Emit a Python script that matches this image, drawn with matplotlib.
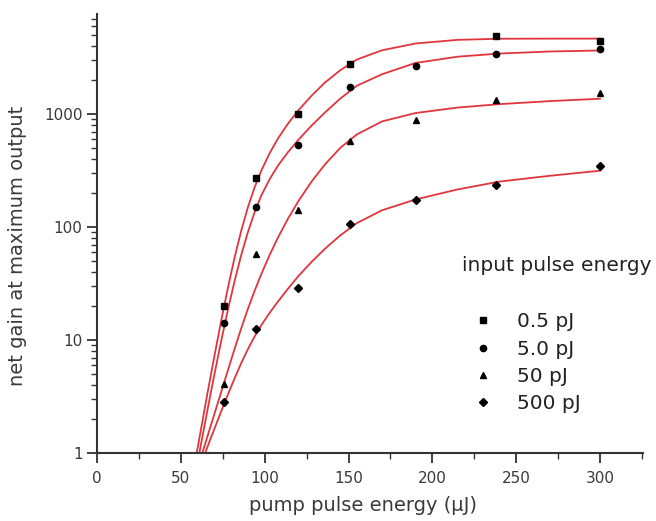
import matplotlib
matplotlib.use("Agg")
import matplotlib.pyplot as plt
import numpy as np
from matplotlib.ticker import FixedLocator, LogLocator, NullFormatter, FuncFormatter

plt.rcParams['font.family'] = 'DejaVu Sans'

# measured points (pump energy in uJ, gain)
pump = [76, 95, 120, 151, 190, 238, 300]
gain_05 = [20, 270, 1000, 2760, np.nan, 4900, 4450]
gain_5 = [14, 150, 530, 1740, 2650, 3390, 3740]
gain_50 = [4.1, 58, 141, 576, 890, 1330, 1545]
gain_500 = [2.8, 12.5, 29, 107, 174, 235, 350]

# fitted curves
fit_pump = [58, 62, 66, 70, 74, 78, 82, 86, 90, 94, 98, 103, 108, 114, 120,
            128, 136, 145, 155, 170, 190, 215, 240, 270, 300]
fit_05 = [0.76, 1.63, 3.47, 7.24, 14.7, 28.8, 53.5, 92.9, 150, 225, 316, 452, 610, 826, 1074,
          1455, 1901, 2438, 3034, 3664, 4207, 4529, 4634, 4645, 4645]
fit_5 = [0.575, 1.2, 2.47, 4.97, 9.73, 18.4, 33.1, 56.5, 90.4, 135.5, 190.5, 266, 351, 462, 589,
         791, 1033, 1366, 1780, 2249, 2831, 3214, 3428, 3573, 3648]
fit_50 = [0.589, 0.916, 1.43, 2.22, 3.45, 5.37, 8.32, 12.7, 18.9, 27.3, 38.4, 56.8, 81.1, 119.4, 168.7,
          252.9, 358.9, 500, 660, 860, 1020, 1140, 1222, 1300, 1365]
fit_500 = [0.55, 0.794, 1.15, 1.64, 2.33, 3.28, 4.57, 6.25, 8.32, 10.76, 13.55, 17.46, 21.98, 28.58, 36.64,
           49.2, 64.3, 84.1, 108.4, 140.6, 175.4, 214.8, 252.3, 283.8, 314.8]

labels = ['0.5 pJ', '5.0 pJ', '50 pJ', '500 pJ']
markers = ['s', 'o', '^', 'D']
msizes = [4, 4.5, 5, 4]

fig = plt.figure(figsize=(6.56, 5.21), dpi=100)
ax = fig.add_axes([0.148, 0.1305, 0.832, 0.8426])

red = '#e0353d'
for fit in [fit_05, fit_5, fit_50, fit_500]:
    ax.plot(fit_pump, fit, color=red, lw=1.3, zorder=2)

for g, m, s in zip([gain_05, gain_5, gain_50, gain_500], markers, msizes):
    ax.plot(pump, g, ls='none', marker=m, ms=s, color='black', zorder=3)

ax.set_yscale('log')
ax.set_xlim(0, 325.6)
ax.set_ylim(1, 7670)

for side in ['top', 'right']:
    ax.spines[side].set_visible(False)
for side in ['left', 'bottom']:
    ax.spines[side].set_linewidth(1.5)
    ax.spines[side].set_color('#333333')

ax.xaxis.set_major_locator(FixedLocator([0, 50, 100, 150, 200, 250, 300]))
ax.xaxis.set_minor_locator(FixedLocator([25, 75, 125, 175, 225, 275, 325]))
ax.yaxis.set_major_locator(FixedLocator([1, 10, 100, 1000]))
ax.yaxis.set_minor_locator(LogLocator(base=10, subs=np.arange(2, 10)))
ax.yaxis.set_major_formatter(FuncFormatter(lambda v, p: f'{v:g}'))
ax.yaxis.set_minor_formatter(NullFormatter())

ax.tick_params(which='major', length=7, width=1.3, color='#333333', labelsize=11, labelcolor='#3a3a3a')
ax.tick_params(which='minor', length=4, width=1.0, color='#333333')
ax.tick_params(axis='x', which='major', pad=6)

ax.set_xlabel('pump pulse energy (\u03bcJ)', fontsize=14, color='#3a3a3a')
ax.set_ylabel('net gain at maximum output', fontsize=14, color='#3a3a3a')
ax.xaxis.set_label_coords(0.488, -0.098)
ax.yaxis.set_label_coords(-0.128, 0.4715)

# legend drawn as title text + marker legend
ax.text(1.016, 0.428, 'input pulse energy', transform=ax.transAxes, ha='right', va='center',
        fontsize=14.5, color='#222222')
leg = ax.legend([plt.Line2D([], [], ls='none', marker=m, ms=s, color='black') for m, s in zip(markers, msizes)],
                labels, loc='center left', bbox_to_anchor=(0.655, 0.206), frameon=False,
                fontsize=14.5, handlelength=1.0, handletextpad=1.2, labelspacing=0.4)
for t in leg.get_texts():
    t.set_color('#222222')

fig.savefig('out.png', dpi=100)
